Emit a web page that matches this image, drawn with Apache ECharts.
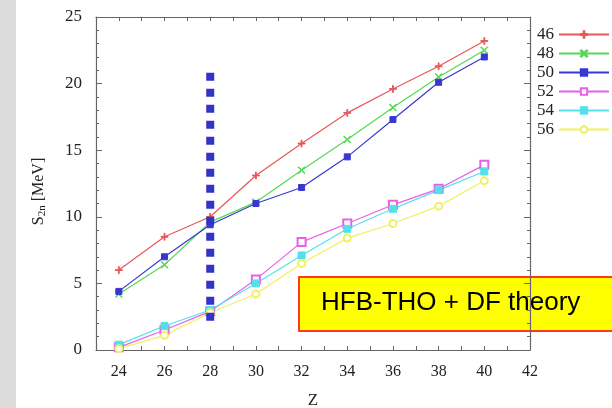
<!DOCTYPE html>
<html>
<head>
<meta charset="utf-8">
<script src="https://cdn.jsdelivr.net/npm/echarts@6/dist/echarts.min.js"></script>
<style>
html, body { margin: 0; padding: 0; background: #fff; }
#strip { position: absolute; left: 0; top: 0; width: 16px; height: 408px; background: #dcdcdc; }
#main { position: absolute; left: 0; top: 0; width: 612px; height: 408px; }
</style>
</head>
<body>
<div id="strip"></div>
<div id="main"></div>
<script>
// Z values (proton number)
var zValues = [24, 26, 28, 30, 32, 34, 36, 38, 40];
// S2n [MeV] for each neutron number N
var s2n46 = [6.0, 8.5, 10.0, 13.1, 15.5, 17.8, 19.6, 21.3, 23.2];
var s2n48 = [4.2, 6.4, 9.6, 11.1, 13.5, 15.8, 18.2, 20.5, 22.5];
var s2n50 = [4.4, 7.0, 9.4, 11.0, 12.2, 14.5, 17.3, 20.1, 22.0];
var s2n52 = [0.2, 1.5, 2.9, 5.3, 8.1, 9.5, 10.9, 12.1, 13.9];
var s2n54 = [0.4, 1.8, 3.0, 5.0, 7.1, 9.1, 10.6, 12.0, 13.4];
var s2n56 = [0.1, 1.1, 2.8, 4.2, 6.5, 8.4, 9.5, 10.8, 12.7];
var seriesNames = ['46', '48', '50', '52', '54', '56'];
// dotted marker line at Z = 28
var markerZ = 28;
var markerRange = [2.2, 20.85];
var xTicks = [24, 26, 28, 30, 32, 34, 36, 38, 40, 42];

var chart = echarts.init(document.getElementById('main'));
var serif = '"Liberation Serif", "DejaVu Serif", serif';
var axisColor = '#666';

function pairs(ys) {
	return zValues.map(function (z, i) { return [z, ys[i]]; });
}

var plusPath = 'path://M4.4,0H5.6V4.4H10V5.6H5.6V10H4.4V5.6H0V4.4H4.4Z';
var crossPath = 'path://M0.8,0L5,4.2L9.2,0L10,0.8L5.8,5L10,9.2L9.2,10L5,5.8L0.8,10L0,9.2L4.2,5L0,0.8Z';

var styles = [
	{ color: '#e85858', symbol: plusPath, size: 7 },
	{ color: '#55d855', symbol: crossPath, size: 7 },
	{ color: '#3838d0', symbol: 'rect', size: 6 },
	{ color: '#e860e8', symbol: 'emptyRect', size: 8 },
	{ color: '#55e0e8', symbol: 'rect', size: 7 },
	{ color: '#f0f060', symbol: 'emptyCircle', size: 7 }
];
var dataSets = [s2n46, s2n48, s2n50, s2n52, s2n54, s2n56];

var series = dataSets.map(function (d, i) {
	return {
		name: seriesNames[i],
		type: 'line',
		data: pairs(d),
		symbol: styles[i].symbol,
		symbolSize: styles[i].size,
		showAllSymbol: true,
		color: styles[i].color,
		lineStyle: { width: 1.2, color: styles[i].color },
		itemStyle: { color: styles[i].color, borderColor: styles[i].color, borderWidth: 1 },
		z: 2
	};
});

series.push({
	name: 'marker',
	type: 'line',
	data: [[markerZ, markerRange[0]], [markerZ, markerRange[1]]],
	symbol: 'none',
	lineStyle: { width: 8, type: 'dotted', color: '#3333cc', cap: 'butt' },
	z: 5,
	silent: true
});

var axisCommon = {
	axisLine: { show: true, onZero: false, lineStyle: { color: axisColor, width: 1.2 } },
	axisTick: { show: true, inside: true, length: 6, lineStyle: { color: axisColor } },
	minorTick: { show: true, length: 3, lineStyle: { color: axisColor } },
	splitLine: { show: false }
};

var option = {
	animation: false,
	backgroundColor: 'transparent',
	grid: { left: 96, right: 82, top: 17, bottom: 58, outerBoundsMode: 'none' },
	legend: {
		data: seriesNames,
		orient: 'vertical',
		left: 532,
		top: 21,
		align: 'right',
		itemWidth: 50,
		itemHeight: 8,
		itemGap: 2,
		textStyle: { fontFamily: serif, fontSize: 17, color: '#222', lineHeight: 16 }
	},
	xAxis: [
		{
			type: 'value', min: 23, max: 42, interval: 1,
			axisLine: axisCommon.axisLine, splitLine: axisCommon.splitLine,
			axisLabel: {
				margin: 14, fontFamily: serif, fontSize: 16, color: '#222',
				formatter: function (v) { return xTicks.indexOf(v) >= 0 ? String(v) : ''; }
			},
			axisTick: { show: true, inside: true, length: 4, lineStyle: { color: axisColor } },
			name: 'Z', nameLocation: 'middle', nameGap: 42,
			nameTextStyle: { fontFamily: serif, fontSize: 17, color: '#222' }
		},
		{
			type: 'value', min: 23, max: 42, interval: 1, position: 'top',
			axisLine: axisCommon.axisLine, splitLine: axisCommon.splitLine,
			axisLabel: { show: false },
			axisTick: { show: true, inside: true, length: 4, lineStyle: { color: axisColor } }
		}
	],
	yAxis: [
		Object.assign({
			type: 'value', min: 0, max: 25, interval: 5,
			axisLabel: { margin: 14, fontFamily: serif, fontSize: 17, color: '#222' },
			name: '{a|S}{b|2n}{a| [MeV]}', nameLocation: 'middle', nameGap: 48, nameRotate: 90,
			nameTextStyle: {
				fontFamily: serif, fontSize: 16, color: '#222',
				padding: [0, 16, 0, 0],
				rich: {
					a: { fontFamily: serif, fontSize: 16, color: '#222' },
					b: { fontFamily: serif, fontSize: 11, color: '#222', padding: [8, 0, 0, 0] }
				}
			}
		}, axisCommon),
		Object.assign({
			type: 'value', min: 0, max: 25, interval: 5, position: 'right',
			axisLabel: { show: false }
		}, axisCommon)
	],
	series: series,
	graphic: [{
		type: 'group',
		left: 298,
		top: 276,
		children: [{
			type: 'rect',
			shape: { x: 0, y: 0, width: 330, height: 54 },
			style: { fill: '#ffff00', stroke: '#ff3a1a', lineWidth: 2 }
		}, {
			type: 'text',
			x: 22,
			y: 26,
			style: {
				text: 'HFB-THO + DF theory',
				fontFamily: '"Liberation Sans", Arial, sans-serif',
				fontSize: 26,
				fill: '#000',
				verticalAlign: 'middle'
			}
		}]
	}]
};

chart.setOption(option);
</script>
</body>
</html>
